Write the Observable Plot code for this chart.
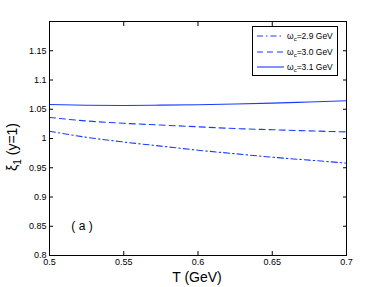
<!DOCTYPE html>
<html><head><meta charset="utf-8">
<script src="https://cdn.jsdelivr.net/npm/d3@7"></script>
<script src="https://cdn.jsdelivr.net/npm/@observablehq/plot@0.6"></script>
<style>
body{margin:0;background:#fff;}
#wrap{position:relative;width:382px;height:287px;font-family:"Liberation Sans",Arial,sans-serif;}
#legend{position:absolute;left:252px;top:26px;width:86px;height:50px;border:1px solid #000;background:#fff;box-sizing:border-box;}
#legend .row{position:absolute;left:0;height:12px;font-size:8.5px;line-height:12px;color:#000;}
#legend svg{position:absolute;left:4px;top:0;}
#legend span{position:absolute;left:34px;top:0;white-space:nowrap;}
</style></head>
<body><div id="wrap"></div>
<script>
const T = [0.5, 0.525, 0.55, 0.575, 0.6, 0.625, 0.65, 0.675, 0.7];
const xi29 = [1.0125, 1.002, 0.994, 0.987, 0.980, 0.974, 0.968, 0.963, 0.958];
const xi30 = [1.036, 1.030, 1.026, 1.023, 1.020, 1.017, 1.015, 1.013, 1.0113];
const xi31 = [1.058, 1.0568, 1.0565, 1.057, 1.0578, 1.059, 1.0605, 1.0625, 1.0645];
const seriesNames = ["2.9", "3.0", "3.1"];
const seriesDash = ["6,3,1.5,3", "6,4", null];
const xTicks = [0.5, 0.55, 0.6, 0.65, 0.7];
const yTicks = [0.8, 0.85, 0.9, 0.95, 1, 1.05, 1.1, 1.15];
const annotations = [{label: "( a )", T: 0.5219, xi: 0.851}];

const allSeries = [xi29, xi30, xi31];
const data = allSeries.flatMap((vals, i) => vals.map((v, j) => ({T: T[j], xi: v, s: i})));
const font = '"Liberation Sans", Arial, sans-serif';

const lineMarks = allSeries.map((vals, i) => Plot.line(data.filter(d => d.s === i), {
  x: "T", y: "xi", curve: "monotone-x", stroke: "#1a3cff", strokeWidth: 1.1,
  strokeDasharray: seriesDash[i] ?? undefined
}));

const chart = Plot.plot({
  width: 382, height: 287,
  marginLeft: 49, marginRight: 36, marginTop: 21, marginBottom: 32,
  style: {fontFamily: font, fontSize: "9px", background: "white", color: "#000"},
  x: {domain: [0.5, 0.7]},
  y: {domain: [0.8, 1.2]},
  marks: [
    ...lineMarks,
    Plot.frame({stroke: "#000", strokeWidth: 1}),
    Plot.axisX({anchor: "bottom", ticks: xTicks, tickSize: -4, tickPadding: 7, tickFormat: d => String(d), label: null}),
    Plot.axisX({anchor: "top", ticks: xTicks, tickSize: -4, tickFormat: () => "", label: null}),
    Plot.axisY({anchor: "left", ticks: yTicks, tickSize: -4, tickPadding: 7, tickFormat: d => String(d), label: null}),
    Plot.axisY({anchor: "right", ticks: yTicks, tickSize: -4, tickFormat: () => "", label: null}),
    Plot.text(annotations, {x: "T", y: "xi", text: "label", fontSize: 12, fill: "#000"})
  ]
});

const svg = d3.select(chart);
svg.append("text").attr("x", 197).attr("y", 282).attr("text-anchor", "middle")
  .attr("font-size", 14).attr("font-family", font).attr("fill", "#000").text("T (GeV)");
const yl = svg.append("text").attr("transform", "translate(17,147) rotate(-90)")
  .attr("text-anchor", "middle").attr("font-size", 14).attr("font-family", font).attr("fill", "#000");
yl.append("tspan").text("ξ");
yl.append("tspan").attr("font-size", 10).attr("dy", 4).text("1");
yl.append("tspan").attr("dy", -4).text(" (y=1)");

const wrap = document.getElementById("wrap");
wrap.appendChild(chart);
const leg = document.createElement("div");
leg.id = "legend";
const rowsTop = [3, 19, 34];
seriesNames.forEach((n, i) => {
  const row = document.createElement("div");
  row.className = "row";
  row.style.top = rowsTop[i] + "px";
  row.style.width = "86px";
  row.innerHTML = `<svg width="28" height="12"><line x1="0" y1="6" x2="27" y2="6" stroke="#1a3cff" stroke-width="1.1" ${seriesDash[i] ? `stroke-dasharray="${seriesDash[i]}"` : ""}/></svg><span>ω<sub style="font-size:6px;vertical-align:-2px">c</sub>=${n} GeV</span>`;
  leg.appendChild(row);
});
wrap.appendChild(leg);
</script></body></html>
